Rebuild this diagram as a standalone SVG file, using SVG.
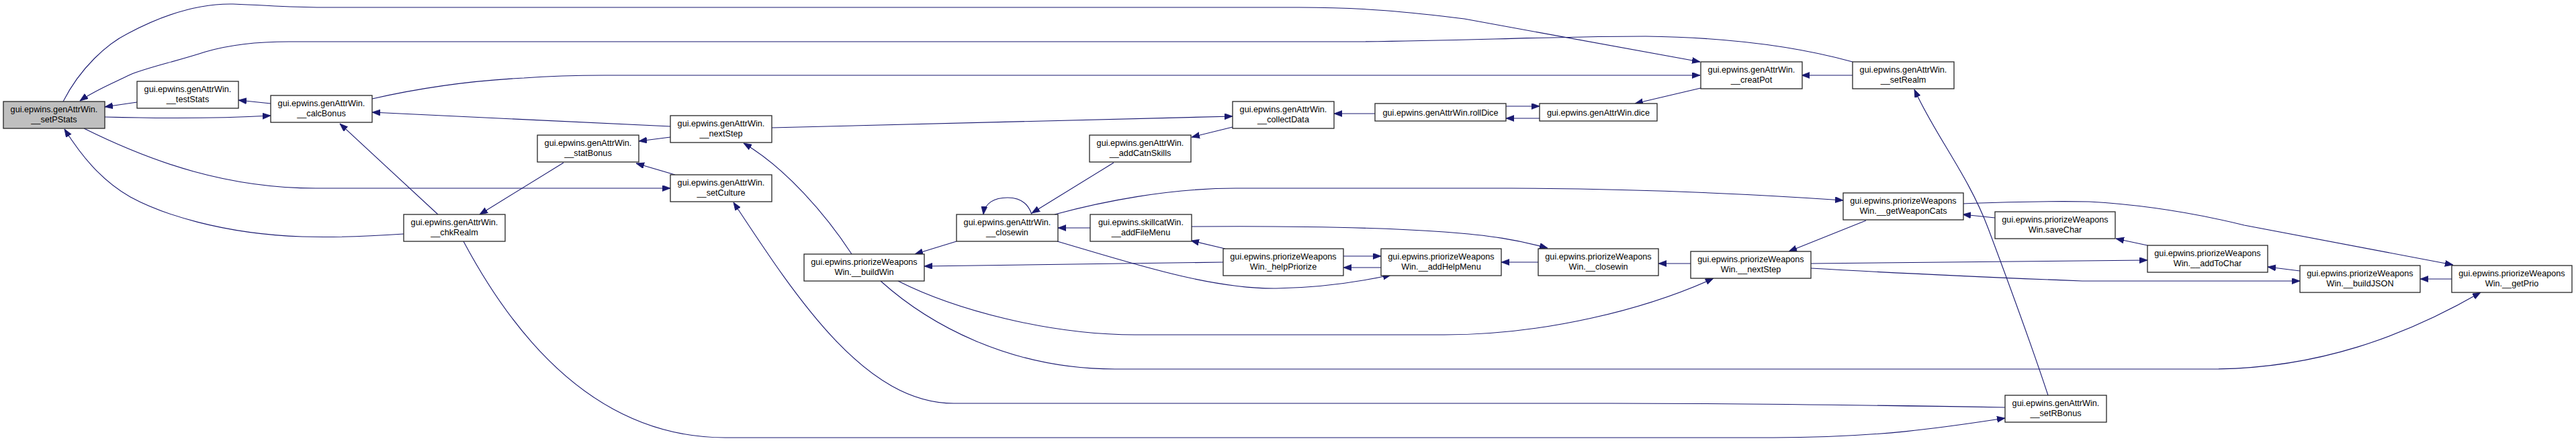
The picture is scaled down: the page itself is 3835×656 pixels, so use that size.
<svg xmlns="http://www.w3.org/2000/svg" width="3835" height="656" viewBox="0 0 3835 656">
<style>
.n rect{fill:#fff;stroke:#262626;stroke-width:1.3}
.n.cur rect{fill:#bfbfbf}
.n text{font-family:"Liberation Sans",Arial,sans-serif;font-size:12.7px;fill:#000;text-anchor:middle}
.e path{fill:none;stroke:#191970;stroke-width:1.1;marker-end:url(#ah)}
</style>
<defs>
<marker id="ah" markerUnits="userSpaceOnUse" markerWidth="13" markerHeight="10" refX="12" refY="4.5" orient="auto">
<path d="M0,0 L12,4.5 L0,9 z" fill="#191970" stroke="#191970" stroke-width="0.8"/>
</marker>
</defs>
<rect width="3835" height="656" fill="#fff"/>
<g id="edges" class="e">
<path d="M94,151 C120,100 160,65 190,50 C250,18 300,5 347,6 C400,8 430,11 480,11 L1934,11 C2030,11 2100,18 2180,28 L2531,92"/>
<path d="M2758,92 C2700,76 2600,56 2450,54 C2300,54 2150,62 2000,62 L430,62 C370,62 330,70 306,77 C260,92 220,100 194,111 C165,125 140,135 119,150"/>
<path d="M204,152 L156,159"/>
<path d="M403,154 L355,149"/>
<path d="M156,174 C230,176 330,176 403,172"/>
<path d="M554,147 C620,132 700,120 780,116 C820,113 850,112 900,112 L2531,112"/>
<path d="M998,188 L554,167"/>
<path d="M125,191 C230,243 340,280 470,280 L998,280"/>
<path d="M601,348 C540,352 480,353 450,352 C330,348 240,318 194,293 C150,268 120,230 96,192"/>
<path d="M652,319 L506,184"/>
<path d="M839,242 L714,319"/>
<path d="M690,359 C760,490 880,651 1080,651 L2640,651 C2800,651 2900,635 2985,622"/>
<path d="M1149,190 L1835,173"/>
<path d="M998,204 L951,210"/>
<path d="M1005,260 L947,243"/>
<path d="M1268,378 C1230,320 1170,250 1107,213"/>
<path d="M1424,359 L1362,378"/>
<path d="M1536,319 C1530,300 1515,294 1500,294 C1480,294 1466,302 1464,319"/>
<path d="M1821,390 L1376,396"/>
<path d="M1337,418 C1420,460 1560,498 1690,498 L2150,498 C2300,498 2450,460 2551,414"/>
<path d="M1311,418 C1380,480 1500,549 1660,549 L3290,549 C3450,549 3580,500 3693,435"/>
<path d="M2985,606 C2800,603 2600,600 2400,600 L1420,600 C1290,600 1190,450 1092,301"/>
<path d="M1835,189 L1774,204"/>
<path d="M2047,169 L1986,169"/>
<path d="M2242,158 L2292,158"/>
<path d="M2292,176 L2242,176"/>
<path d="M1658,242 L1536,317"/>
<path d="M1570,319 C1640,300 1740,280 1840,280 L2250,280 C2450,281 2600,288 2744,298"/>
<path d="M1623,339 L1575,339"/>
<path d="M1773,337 C1900,336 2050,338 2150,345 C2220,350 2260,357 2304,369"/>
<path d="M1824,370 L1773,358"/>
<path d="M2000,381 L2056,381"/>
<path d="M2056,398 L2000,398"/>
<path d="M1574,359 C1680,390 1800,430 1900,429 C1960,428 2020,420 2071,409"/>
<path d="M2290,390 L2235,390"/>
<path d="M2532,131 L2434,154"/>
<path d="M2758,112 L2682,112"/>
<path d="M3049,588 C3020,500 2990,420 2960,340 C2930,260 2880,200 2850,133"/>
<path d="M2778,328 L2663,374"/>
<path d="M2517,392 L2469,392"/>
<path d="M2922,303 C3000,300 3060,299 3110,300 C3200,305 3280,320 3341,335 L3652,394"/>
<path d="M2970,324 L2922,319"/>
<path d="M2696,392 L3197,387"/>
<path d="M2696,399 C2850,408 3000,414 3100,418 L3424,418"/>
<path d="M3197,365 L3150,355"/>
<path d="M3424,403 L3376,397"/>
<path d="M3650,415 L3603,415"/>
</g>
<g id="setPStats" class="n cur"><rect x="5" y="151" width="151" height="40"/><text x="80.5" y="167">gui.epwins.genAttrWin.</text><text x="80.5" y="182">__setPStats</text></g>
<g id="testStats" class="n"><rect x="204" y="121" width="151" height="40"/><text x="279.5" y="137">gui.epwins.genAttrWin.</text><text x="279.5" y="152">__testStats</text></g>
<g id="calcBonus" class="n"><rect x="403" y="142" width="151" height="40"/><text x="478.5" y="158">gui.epwins.genAttrWin.</text><text x="478.5" y="173">__calcBonus</text></g>
<g id="chkRealm" class="n"><rect x="601" y="319" width="151" height="40"/><text x="676.5" y="335">gui.epwins.genAttrWin.</text><text x="676.5" y="350">__chkRealm</text></g>
<g id="statBonus" class="n"><rect x="800" y="201" width="151" height="40"/><text x="875.5" y="217">gui.epwins.genAttrWin.</text><text x="875.5" y="232">__statBonus</text></g>
<g id="nextStepGen" class="n"><rect x="998" y="172" width="151" height="40"/><text x="1073.5" y="188">gui.epwins.genAttrWin.</text><text x="1073.5" y="203">__nextStep</text></g>
<g id="setCulture" class="n"><rect x="998" y="260" width="151" height="40"/><text x="1073.5" y="276">gui.epwins.genAttrWin.</text><text x="1073.5" y="291">__setCulture</text></g>
<g id="buildWin" class="n"><rect x="1197" y="378" width="179" height="40"/><text x="1286.5" y="394">gui.epwins.priorizeWeapons</text><text x="1286.5" y="409">Win.__buildWin</text></g>
<g id="closewinGen" class="n"><rect x="1424" y="319" width="151" height="40"/><text x="1499.5" y="335">gui.epwins.genAttrWin.</text><text x="1499.5" y="350">__closewin</text></g>
<g id="addCatnSkills" class="n"><rect x="1622" y="201" width="151" height="40"/><text x="1697.5" y="217">gui.epwins.genAttrWin.</text><text x="1697.5" y="232">__addCatnSkills</text></g>
<g id="addFileMenu" class="n"><rect x="1623" y="319" width="151" height="40"/><text x="1698.5" y="335">gui.epwins.skillcatWin.</text><text x="1698.5" y="350">__addFileMenu</text></g>
<g id="collectData" class="n"><rect x="1835" y="151" width="151" height="40"/><text x="1910.5" y="167">gui.epwins.genAttrWin.</text><text x="1910.5" y="182">__collectData</text></g>
<g id="rollDice" class="n"><rect x="2047" y="154" width="195" height="26"/><text x="2144.5" y="171.5">gui.epwins.genAttrWin.rollDice</text></g>
<g id="helpPriorize" class="n"><rect x="1821" y="370" width="179" height="40"/><text x="1910.5" y="386">gui.epwins.priorizeWeapons</text><text x="1910.5" y="401">Win._helpPriorize</text></g>
<g id="addHelpMenu" class="n"><rect x="2056" y="370" width="179" height="40"/><text x="2145.5" y="386">gui.epwins.priorizeWeapons</text><text x="2145.5" y="401">Win.__addHelpMenu</text></g>
<g id="dice" class="n"><rect x="2292" y="154" width="175" height="26"/><text x="2379.5" y="171.5">gui.epwins.genAttrWin.dice</text></g>
<g id="closewinPrio" class="n"><rect x="2290" y="370" width="179" height="40"/><text x="2379.5" y="386">gui.epwins.priorizeWeapons</text><text x="2379.5" y="401">Win.__closewin</text></g>
<g id="creatPot" class="n"><rect x="2532" y="92" width="151" height="40"/><text x="2607.5" y="108">gui.epwins.genAttrWin.</text><text x="2607.5" y="123">__creatPot</text></g>
<g id="nextStepPrio" class="n"><rect x="2517" y="374" width="179" height="40"/><text x="2606.5" y="390">gui.epwins.priorizeWeapons</text><text x="2606.5" y="405">Win.__nextStep</text></g>
<g id="setRealm" class="n"><rect x="2758" y="92" width="151" height="40"/><text x="2833.5" y="108">gui.epwins.genAttrWin.</text><text x="2833.5" y="123">__setRealm</text></g>
<g id="getWeaponCats" class="n"><rect x="2744" y="287" width="179" height="40"/><text x="2833.5" y="303">gui.epwins.priorizeWeapons</text><text x="2833.5" y="318">Win.__getWeaponCats</text></g>
<g id="saveChar" class="n"><rect x="2970" y="315" width="179" height="40"/><text x="3059.5" y="331">gui.epwins.priorizeWeapons</text><text x="3059.5" y="346">Win.saveChar</text></g>
<g id="setRBonus" class="n"><rect x="2985" y="588" width="151" height="40"/><text x="3060.5" y="604">gui.epwins.genAttrWin.</text><text x="3060.5" y="619">__setRBonus</text></g>
<g id="addToChar" class="n"><rect x="3197" y="365" width="179" height="40"/><text x="3286.5" y="381">gui.epwins.priorizeWeapons</text><text x="3286.5" y="396">Win.__addToChar</text></g>
<g id="buildJSON" class="n"><rect x="3424" y="395" width="179" height="40"/><text x="3513.5" y="411">gui.epwins.priorizeWeapons</text><text x="3513.5" y="426">Win.__buildJSON</text></g>
<g id="getPrio" class="n"><rect x="3650" y="395" width="179" height="40"/><text x="3739.5" y="411">gui.epwins.priorizeWeapons</text><text x="3739.5" y="426">Win.__getPrio</text></g>
</svg>
